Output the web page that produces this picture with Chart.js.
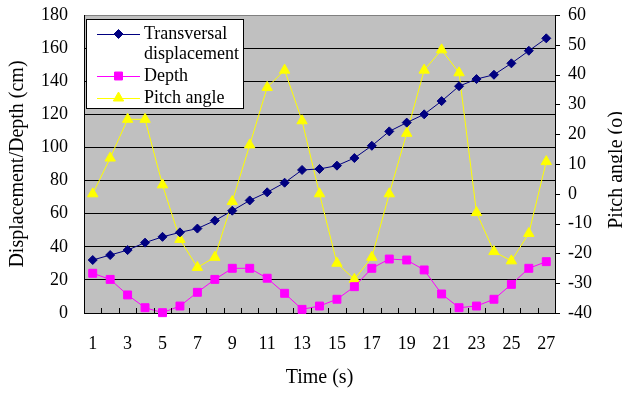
<!DOCTYPE html>
<html lang="en">
<head>
    <meta charset="UTF-8">
    <title>Displacement, depth and pitch angle</title>
    <script src="https://cdn.jsdelivr.net/npm/chart.js"></script>
    <style>
        html, body { margin: 0; padding: 0; background: #fff; }
        #wrap { width: 622px; height: 394px; }
    </style>
</head>
<body>
    <div id="wrap"><canvas id="chart" width="622" height="394"></canvas></div>

    <script>
        // data
        const timeLabels = ['1', '2', '3', '4', '5', '6', '7', '8', '9', '10', '11', '12', '13', '14',
            '15', '16', '17', '18', '19', '20', '21', '22', '23', '24', '25', '26', '27'];
        const displacement = [32, 35, 38, 42.5, 46, 48.7, 51, 55.8, 61.8, 68, 72.9, 78.7, 86.4, 87,
            89, 93.6, 101, 109.7, 115, 120, 128, 137, 141.3, 143.9, 150.8, 158.4, 165.9];
        const depth = [24, 20.3, 10.9, 3.2, 0.2, 4.2, 12.5, 20.3, 27, 27, 21, 11.9, 2.2, 4.2,
            8.3, 15.9, 27, 32.6, 32, 26, 11.5, 3.2, 4.2, 8.3, 17.3, 27, 31];
        const pitchAngle = [0, 12, 25, 25, 3, -15.3, -24.7, -21.3, -2.6, 16.4, 35.7, 41.5, 24.5, 0,
            -23.3, -28.7, -21.3, 0, 20.3, 41.5, 48.3, 40.6, -6.3, -19.4, -22.5, -13.3, 10.8];
        const seriesNames = ['Transversal displacement', 'Depth', 'Pitch angle'];
        const legendLines = [['Transversal', 'displacement'], ['Depth'], ['Pitch angle']];

        const FONT = '"Liberation Serif", "Times New Roman", serif';

        // gray plot background
        const plotBackground = {
            id: 'plotBackground',
            beforeDraw(chart) {
                const { ctx, chartArea: a } = chart;
                ctx.save();
                ctx.fillStyle = '#c0c0c0';
                ctx.fillRect(a.left, a.top, a.right - a.left, a.bottom - a.top);
                ctx.restore();
            }
        };

        // tick marks: between categories inside the plot, and short ones outside the right axis
        const axisTicks = {
            id: 'axisTicks',
            afterDraw(chart) {
                const { ctx, chartArea: a } = chart;
                const xs = chart.scales.x;
                const ys = chart.scales.y1;
                const step = xs.getPixelForValue(1) - xs.getPixelForValue(0);
                const start = xs.getPixelForValue(0) - step / 2;
                ctx.save();
                ctx.strokeStyle = '#000';
                ctx.lineWidth = 1;
                ctx.beginPath();
                for (let k = 0; k <= timeLabels.length; k++) {
                    const px = Math.round(start + k * step) + 0.5;
                    ctx.moveTo(px, a.bottom - 5);
                    ctx.lineTo(px, a.bottom);
                }
                ys.ticks.forEach(t => {
                    const py = Math.round(ys.getPixelForValue(t.value)) + 0.5;
                    ctx.moveTo(a.right, py);
                    ctx.lineTo(a.right + 5, py);
                });
                ctx.stroke();
                ctx.restore();
            }
        };

        // right axis title, reading upwards like the left one
        const rightTitle = {
            id: 'rightTitle',
            afterDraw(chart) {
                const { ctx, chartArea: a } = chart;
                ctx.save();
                ctx.translate(617, (a.top + a.bottom) / 2 + 6);
                ctx.rotate(-Math.PI / 2);
                ctx.font = '20px ' + FONT;
                ctx.fillStyle = '#000';
                ctx.textAlign = 'center';
                ctx.textBaseline = 'middle';
                ctx.fillText('Pitch angle (o)', 0, 0);
                ctx.restore();
            }
        };

        // boxed legend in the top left corner of the plot
        const boxLegend = {
            id: 'boxLegend',
            afterDatasetsDraw(chart) {
                const { ctx, chartArea: a } = chart;
                const x = a.left + 2, y = a.top + 4;
                ctx.save();
                ctx.fillStyle = '#fff';
                ctx.fillRect(x, y, 158, 90);
                ctx.strokeStyle = '#000';
                ctx.lineWidth = 1;
                ctx.strokeRect(x + 0.5, y + 0.5, 157, 89);
                ctx.font = '18px ' + FONT;
                ctx.textBaseline = 'middle';
                let rowY = y + 15;
                chart.data.datasets.forEach((ds, i) => {
                    ctx.strokeStyle = ds.borderColor;
                    ctx.lineWidth = 1;
                    ctx.beginPath();
                    ctx.moveTo(x + 11, rowY + 0.5);
                    ctx.lineTo(x + 54, rowY + 0.5);
                    ctx.stroke();
                    ctx.fillStyle = ds.pointBackgroundColor;
                    Chart.helpers.drawPoint(ctx, {
                        pointStyle: ds.pointStyle, radius: ds.pointRadius, rotation: 0, borderWidth: 1
                    }, x + 32.5, rowY);
                    ctx.fillStyle = '#000';
                    legendLines[i].forEach((t, j) => ctx.fillText(t, x + 58, rowY + j * 20));
                    rowY += legendLines[i].length * 20 + 2;
                });
                ctx.restore();
            }
        };

        new Chart(document.getElementById('chart'), {
            type: 'line',
            data: {
                labels: timeLabels,
                datasets: [
                    {
                        label: seriesNames[0],
                        data: displacement,
                        yAxisID: 'y',
                        borderColor: '#000080',
                        backgroundColor: '#000080',
                        pointBackgroundColor: '#000080',
                        pointBorderColor: '#000080',
                        pointStyle: 'rectRot',
                        pointRadius: 4.5,
                        borderWidth: 1,
                        tension: 0,
                        clip: false
                    },
                    {
                        label: seriesNames[1],
                        data: depth,
                        yAxisID: 'y',
                        borderColor: '#ff00ff',
                        backgroundColor: '#ff00ff',
                        pointBackgroundColor: '#ff00ff',
                        pointBorderColor: '#ff00ff',
                        pointStyle: 'rect',
                        pointRadius: 5.6,
                        borderWidth: 1,
                        tension: 0,
                        clip: false
                    },
                    {
                        label: seriesNames[2],
                        data: pitchAngle,
                        yAxisID: 'y1',
                        borderColor: '#ffff00',
                        backgroundColor: '#ffff00',
                        pointBackgroundColor: '#ffff00',
                        pointBorderColor: '#ffff00',
                        pointStyle: 'triangle',
                        pointRadius: 6,
                        borderWidth: 1,
                        tension: 0,
                        clip: false
                    }
                ]
            },
            options: {
                responsive: false,
                animation: false,
                devicePixelRatio: 1,
                layout: { padding: { top: 15, left: 0, right: 0, bottom: 0 } },
                plugins: {
                    legend: { display: false },
                    tooltip: { enabled: false }
                },
                scales: {
                    x: {
                        type: 'category',
                        offset: true,
                        grid: { drawOnChartArea: false, drawTicks: false },
                        border: { color: '#000', width: 1 },
                        ticks: {
                            autoSkip: false,
                            maxRotation: 0,
                            padding: 20,
                            color: '#000',
                            font: { family: FONT, size: 18 },
                            callback: (v, i) => (i % 2 === 0 ? timeLabels[i] : '')
                        },
                        title: {
                            display: true,
                            text: 'Time (s)',
                            color: '#000',
                            font: { family: FONT, size: 20 },
                            padding: { top: 0, bottom: 4 }
                        },
                        afterFit: (s) => { s.height = 81; }
                    },
                    y: {
                        position: 'left',
                        min: 0,
                        max: 180,
                        grid: {
                            color: (c) => (c.tick && c.tick.value === 180 ? '#808080' : '#000'),
                            lineWidth: 1,
                            drawTicks: true,
                            tickLength: 16,
                            tickColor: 'rgba(0,0,0,0)'
                        },
                        border: { color: '#000', width: 1 },
                        ticks: {
                            stepSize: 20,
                            padding: 0,
                            color: '#000',
                            font: { family: FONT, size: 18 }
                        },
                        title: {
                            display: true,
                            text: 'Displacement/Depth (cm)',
                            color: '#000',
                            font: { family: FONT, size: 20 },
                            padding: { top: 6, bottom: 0 }
                        },
                        afterFit: (s) => { s.width = 84; }
                    },
                    y1: {
                        position: 'right',
                        min: -40,
                        max: 60,
                        grid: {
                            drawOnChartArea: false,
                            drawTicks: true,
                            tickLength: 13,
                            tickColor: 'rgba(0,0,0,0)'
                        },
                        border: { color: '#000', width: 1 },
                        ticks: {
                            stepSize: 10,
                            padding: 0,
                            color: '#000',
                            font: { family: FONT, size: 18 }
                        },
                        afterFit: (s) => { s.width = 67; }
                    }
                }
            },
            plugins: [plotBackground, axisTicks, boxLegend, rightTitle]
        });
    </script>
</body>
</html>
